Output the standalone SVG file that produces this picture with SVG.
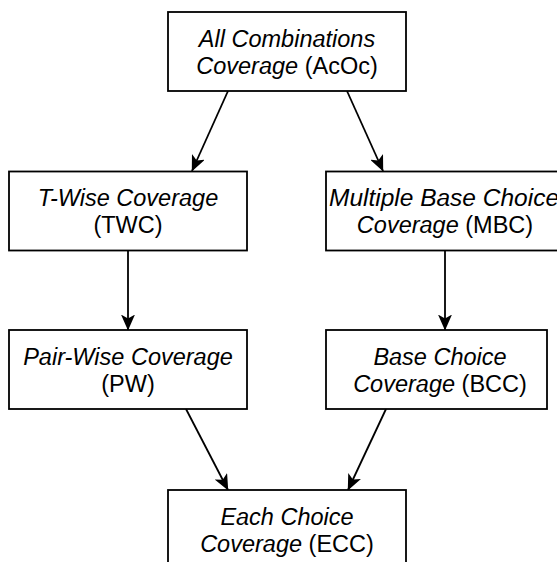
<svg xmlns="http://www.w3.org/2000/svg" width="557" height="562" viewBox="0 0 557 562">
  <style>
    .box { fill: #ffffff; stroke: #000000; stroke-width: 1.8; }
    .lbl { font-family: "Liberation Sans", Arial, sans-serif; font-size: 23.5px; fill: #000000; text-anchor: middle; }
    .it { font-style: italic; }
    .edge { fill: none; stroke: #000000; stroke-width: 1.8; marker-end: url(#arrow); }
  </style>
  <defs>
    <marker id="arrow" viewBox="0 0 16 14" refX="15.5" refY="7" markerWidth="16" markerHeight="14" markerUnits="userSpaceOnUse" orient="auto">
      <path d="M0,0 L16,7 L0,14 L4,7 Z" fill="#000000"/>
    </marker>
  </defs>
  <rect width="557" height="562" fill="#ffffff"/>

  <g id="connectors">
    <line class="edge" x1="228" y1="91" x2="192" y2="171"/>
    <line class="edge" x1="347" y1="91" x2="383" y2="171"/>
    <line class="edge" x1="128" y1="250.5" x2="128" y2="330"/>
    <line class="edge" x1="445" y1="250.5" x2="445" y2="330"/>
    <line class="edge" x1="186" y1="409" x2="228" y2="490"/>
    <line class="edge" x1="386" y1="409" x2="348" y2="490"/>
  </g>

  <g id="node-acoc">
    <rect class="box" x="168" y="12" width="238" height="79"/>
    <text class="lbl" x="287" y="46.5"><tspan class="it">All Combinations</tspan></text>
    <text class="lbl" x="287" y="73.5"><tspan class="it">Coverage</tspan> (AcOc)</text>
  </g>

  <g id="node-twc">
    <rect class="box" x="9" y="171.5" width="238" height="79"/>
    <text class="lbl" x="128" y="206"><tspan class="it">T-Wise Coverage</tspan></text>
    <text class="lbl" x="128" y="233">(TWC)</text>
  </g>

  <g id="node-mbc">
    <rect class="box" x="326" y="171.5" width="238" height="79"/>
    <text class="lbl it" x="444" y="206" textLength="230" lengthAdjust="spacingAndGlyphs">Multiple Base Choice</text>
    <text class="lbl" x="445" y="233"><tspan class="it">Coverage</tspan> (MBC)</text>
  </g>

  <g id="node-pw">
    <rect class="box" x="9" y="330" width="238" height="79"/>
    <text class="lbl" x="128" y="364.5"><tspan class="it">Pair-Wise Coverage</tspan></text>
    <text class="lbl" x="128" y="391.5">(PW)</text>
  </g>

  <g id="node-bcc">
    <rect class="box" x="326" y="330" width="221" height="79"/>
    <text class="lbl" x="440" y="364.5"><tspan class="it">Base Choice</tspan></text>
    <text class="lbl" x="440" y="391.5"><tspan class="it">Coverage</tspan> (BCC)</text>
  </g>

  <g id="node-ecc">
    <rect class="box" x="168" y="490" width="238" height="79"/>
    <text class="lbl" x="287" y="524.5"><tspan class="it">Each Choice</tspan></text>
    <text class="lbl" x="287" y="551.5"><tspan class="it">Coverage</tspan> (ECC)</text>
  </g>
</svg>
